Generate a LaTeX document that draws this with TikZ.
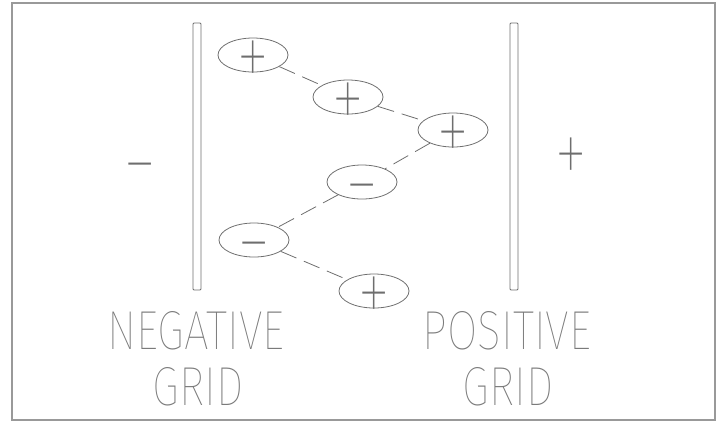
\documentclass[tikz,border=0pt]{standalone}
\usepackage{fontspec}
\newfontfamily\cadfont{Fira Sans Thin}[FakeStretch=0.8]
\newfontfamily\signfont{Fira Sans Thin}[FakeStretch=0.7]
\usetikzlibrary{shapes.geometric}
\definecolor{linegray}{HTML}{6E6E6E}
\definecolor{textgray}{HTML}{7A7A7A}
\begin{document}
\begin{tikzpicture}[x=1pt,y=-1pt,
  charge/.style={draw=linegray, line width=0.8pt, ellipse, minimum width=70pt,
    minimum height=34pt, inner sep=0pt},
  sign/.style={text=linegray, font=\signfont\fontsize{98}{98}\selectfont,
    inner sep=0pt, anchor=base},
  gridlabel/.style={text=textgray, font=\cadfont\fontsize{55}{55}\selectfont, inner sep=0pt, anchor=base},
  link/.style={draw=linegray, line width=0.8pt, dash pattern=on 17pt off 8pt},
  gridbar/.style={draw=linegray, line width=0.8pt, rounded corners=1pt}]
\useasboundingbox (0,0) rectangle (722,421);
% frame
\draw[draw=black!40, line width=1.2pt] (12,3) rectangle (715,420);
% grids
\draw[gridbar] (193,23) rectangle (201,290);
\draw[gridbar] (510,23) rectangle (518,290);
% charges
\node[charge] (e1) at (253,55) {};
\node[charge] (e2) at (348,97) {};
\node[charge] (e3) at (453,130) {};
\node[charge] (e4) at (362,182) {};
\node[charge] (e5) at (254,240) {};
\node[charge] (e6) at (374,291) {};
\node[sign] (s1) at (253,89) {+};
\node[sign] (s2) at (348,131) {+};
\node[sign] (s3) at (453,164) {+};
\node[sign] (s4) at (362,217) {−};
\node[sign] (s5) at (254,275) {−};
\node[sign] (s6) at (374,325) {+};
\draw[link] (e1) -- (e2);
\draw[link] (e2) -- (e3);
\draw[link] (e3) -- (e4);
\draw[link] (e4) -- (e5);
\draw[link] (e5) -- (e6);
% pole signs
\node[sign] (neg) at (140,196) {−};
\node[sign] (pos) at (571,186) {+};
% labels
\node[gridlabel] (nl1) at (196,349) {NEGATIVE};
\node[gridlabel] (nl2) at (198,405) {GRID};
\node[gridlabel] (pl1) at (507,349) {POSITIVE};
\node[gridlabel] (pl2) at (508,405) {GRID};
\end{tikzpicture}
\end{document}
